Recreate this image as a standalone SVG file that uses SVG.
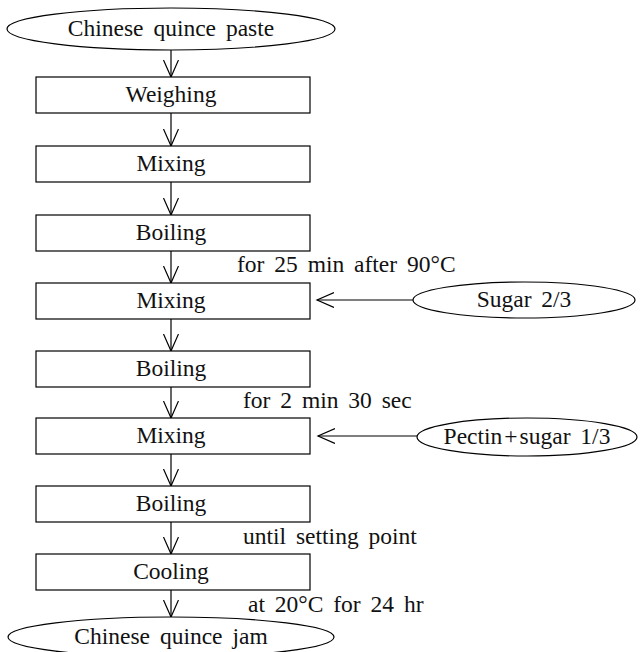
<svg xmlns="http://www.w3.org/2000/svg" width="640" height="652" viewBox="0 0 640 652">
<style>
.s{fill:#fff;stroke:#000;stroke-width:1.2}
text{font-family:"Liberation Serif","Times New Roman",serif;font-size:23.5px;fill:#111;word-spacing:4px}
.c{text-anchor:middle}
.e{fill:none;stroke:#000;stroke-width:1.2}
</style>
<defs>
<marker id="v" markerWidth="20" markerHeight="20" refX="17" refY="7.5" orient="auto" markerUnits="userSpaceOnUse">
<path d="M0,0 L17,7.5 L0,15" fill="none" stroke="#000" stroke-width="1.2"/>
</marker>
</defs>
<g id="connectors">
<line class="e" x1="171" y1="50" x2="171" y2="77" marker-end="url(#v)"/>
<line class="e" x1="171" y1="113" x2="171" y2="146" marker-end="url(#v)"/>
<line class="e" x1="171" y1="182" x2="171" y2="215" marker-end="url(#v)"/>
<line class="e" x1="171" y1="251" x2="171" y2="283" marker-end="url(#v)"/>
<line class="e" x1="171" y1="319" x2="171" y2="351" marker-end="url(#v)"/>
<line class="e" x1="171" y1="387" x2="171" y2="418" marker-end="url(#v)"/>
<line class="e" x1="171" y1="454" x2="171" y2="486" marker-end="url(#v)"/>
<line class="e" x1="171" y1="522" x2="171" y2="554" marker-end="url(#v)"/>
<line class="e" x1="171" y1="590" x2="171" y2="617" marker-end="url(#v)"/>
<line class="e" x1="413" y1="300" x2="317" y2="300" marker-end="url(#v)"/>
<line class="e" x1="417" y1="436" x2="318" y2="436" marker-end="url(#v)"/>
<text x="237" y="272">for 25 min after 90°C</text>
<text x="243" y="408">for 2 min 30 sec</text>
<text x="243" y="544">until setting point</text>
<text x="248" y="612">at 20°C for 24 hr</text>
</g>
<g id="n0"><ellipse class="s" cx="171" cy="29" rx="164" ry="21"/><text class="c" x="171" y="36">Chinese quince paste</text></g>
<g id="n1"><rect class="s" x="36" y="77" width="274" height="36"/><text class="c" x="171" y="102">Weighing</text></g>
<g id="n2"><rect class="s" x="36" y="146" width="274" height="36"/><text class="c" x="171" y="171">Mixing</text></g>
<g id="n3"><rect class="s" x="36" y="215" width="274" height="36"/><text class="c" x="171" y="240">Boiling</text></g>
<g id="n4"><rect class="s" x="36" y="283" width="274" height="36"/><text class="c" x="171" y="308">Mixing</text></g>
<g id="n5"><rect class="s" x="36" y="351" width="274" height="36"/><text class="c" x="171" y="376">Boiling</text></g>
<g id="n6"><rect class="s" x="36" y="418" width="274" height="36"/><text class="c" x="171" y="443">Mixing</text></g>
<g id="n7"><rect class="s" x="36" y="486" width="274" height="36"/><text class="c" x="171" y="511">Boiling</text></g>
<g id="n8"><rect class="s" x="36" y="554" width="274" height="36"/><text class="c" x="171" y="579">Cooling</text></g>
<g id="n9"><ellipse class="s" cx="171" cy="637" rx="163" ry="20"/><text class="c" x="171" y="644">Chinese quince jam</text></g>
<g id="s1"><ellipse class="s" cx="524" cy="300" rx="111" ry="18"/><text class="c" x="524" y="307">Sugar 2/3</text></g>
<g id="s2"><ellipse class="s" cx="527" cy="437" rx="110" ry="19"/><text class="c" x="527" y="444">Pectin<tspan dx="2">+</tspan><tspan dx="2">sugar 1/3</tspan></text></g>
</svg>
